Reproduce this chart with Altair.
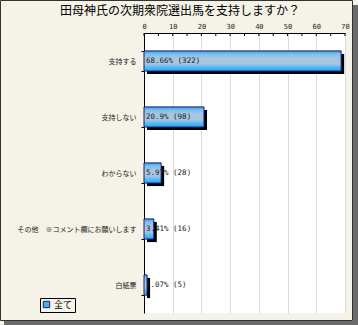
import altair as alt
import pandas as pd

title_text = "田母神氏の次期衆院選出馬を支持しますか？"
categories = ["支持する", "支持しない", "わからない", "その他　※コメント欄にお願いします", "白紙票"]
percents = [68.66, 20.9, 5.97, 3.41, 1.07]
counts = [322, 98, 28, 16, 5]
series_name = "全て"
tick_values = list(range(0, 75, 5))
major_ticks = list(range(0, 80, 10))

df = pd.DataFrame({
    "cat": categories,
    "pct": percents,
    "n": counts,
    "label": [f"{p}% ({c})" for p, c in zip(percents, counts)],
    "series": [series_name] * len(categories),
})
ticks_df = pd.DataFrame({"t": tick_values})

W, H = 201, 280
xscale = alt.Scale(domain=[0, 70], nice=False, zero=True)
yscale = alt.Scale(domain=categories, paddingInner=0.64, paddingOuter=0.32)

xaxis = alt.Axis(orient="top", values=major_ticks, title=None, grid=True, gridColor="#dcdcdc",
                 gridWidth=1, domainColor="#000", domainWidth=1, tickSize=0, labelPadding=4,
                 labelOverlap=False, labelFlush=False,
                 labelFont="DejaVu Sans Mono", labelFontSize=7, labelColor="#222")
yaxis = alt.Axis(title=None, tickBand="extent", tickSize=3, tickColor="#000", domainColor="#000",
                 labelFont="Noto Sans CJK JP", labelFontSize=7, labelColor="#222", labelLimit=220,
                 labelPadding=5, grid=False)


def X(field):
    return alt.X(field, scale=xscale, axis=xaxis, title=None)


def Y():
    return alt.Y("cat:N", scale=yscale, axis=yaxis, sort=categories, title=None)


base = alt.Chart(df)

shadow = base.mark_bar(color="#000", xOffset=3, yOffset=3).encode(x=X("pct:Q"), y=Y())

grad = alt.Gradient(
    gradient="linear", x1=0, x2=0, y1=0, y2=1,
    stops=[
        alt.GradientStop(offset=0, color="#2f9fe8"),
        alt.GradientStop(offset=0.15, color="#7cc0ec"),
        alt.GradientStop(offset=0.35, color="#a6c6e2"),
        alt.GradientStop(offset=0.65, color="#a6c6e2"),
        alt.GradientStop(offset=0.85, color="#45b6f4"),
        alt.GradientStop(offset=1, color="#2aa6f0"),
    ],
)
bars = base.mark_bar(fill=grad, stroke="#1c1c70", strokeWidth=1).encode(x=X("pct:Q"), y=Y())

texts = base.mark_text(align="left", baseline="middle", dx=2, font="DejaVu Sans Mono",
                       fontSize=7.5, color="#222").encode(
    x=X("zero:Q"), y=Y(), text="label:N",
).transform_calculate(zero="0")

legend_layer = base.mark_square(opacity=0).encode(
    x=X("pct:Q"), y=Y(),
    color=alt.Color("series:N", scale=alt.Scale(range=["#3fb2f0"]),
                    legend=alt.Legend(title=None, orient="none", legendX=-104, legendY=265,
                                      symbolType="square", symbolSize=40, symbolOpacity=1,
                                      symbolStrokeColor="#1c1c70", symbolStrokeWidth=1,
                                      labelFont="Noto Sans CJK JP", labelFontSize=9,
                                      labelColor="#000", strokeColor="#000", fillColor="#f6f3ea",
                                      padding=2, symbolOffset=0, labelOffset=3)),
)

tick_rules = alt.Chart(ticks_df).mark_rule(color="#000", strokeWidth=1).encode(
    x=X("t:Q"),
    y=alt.value(0),
    y2=alt.value(3),
)

one = pd.DataFrame({"k": [1]})
frame = alt.Chart(one).mark_rect(fill=None, stroke="#333", strokeWidth=1).encode(
    x=alt.value(-143.5), x2=alt.value(208.5), y=alt.value(-32.5), y2=alt.value(287.5),
)
shadow_r = alt.Chart(one).mark_rect(fill="#6b6b6b").encode(
    x=alt.value(209), x2=alt.value(214), y=alt.value(-28), y2=alt.value(292),
)
shadow_b = alt.Chart(one).mark_rect(fill="#6b6b6b").encode(
    x=alt.value(-140), x2=alt.value(214), y=alt.value(288), y2=alt.value(292),
)
title = alt.Chart(one).mark_text(
    text=title_text, font="Noto Sans CJK JP", fontSize=12, color="#000", baseline="middle"
).encode(x=alt.value(36), y=alt.value(-22))

chart = alt.layer(shadow, bars, texts, legend_layer, tick_rules, frame, shadow_r, shadow_b, title).properties(
    width=W, height=H,
    autosize=alt.AutoSizeParams(type="none"),
    padding={"left": 144, "top": 33, "right": 13, "bottom": 12},
    background="#f5f2e7",
).configure_view(fill="#ffffff", stroke=None)

chart.save("out.html", embed_options={"renderer": "svg", "actions": False})
